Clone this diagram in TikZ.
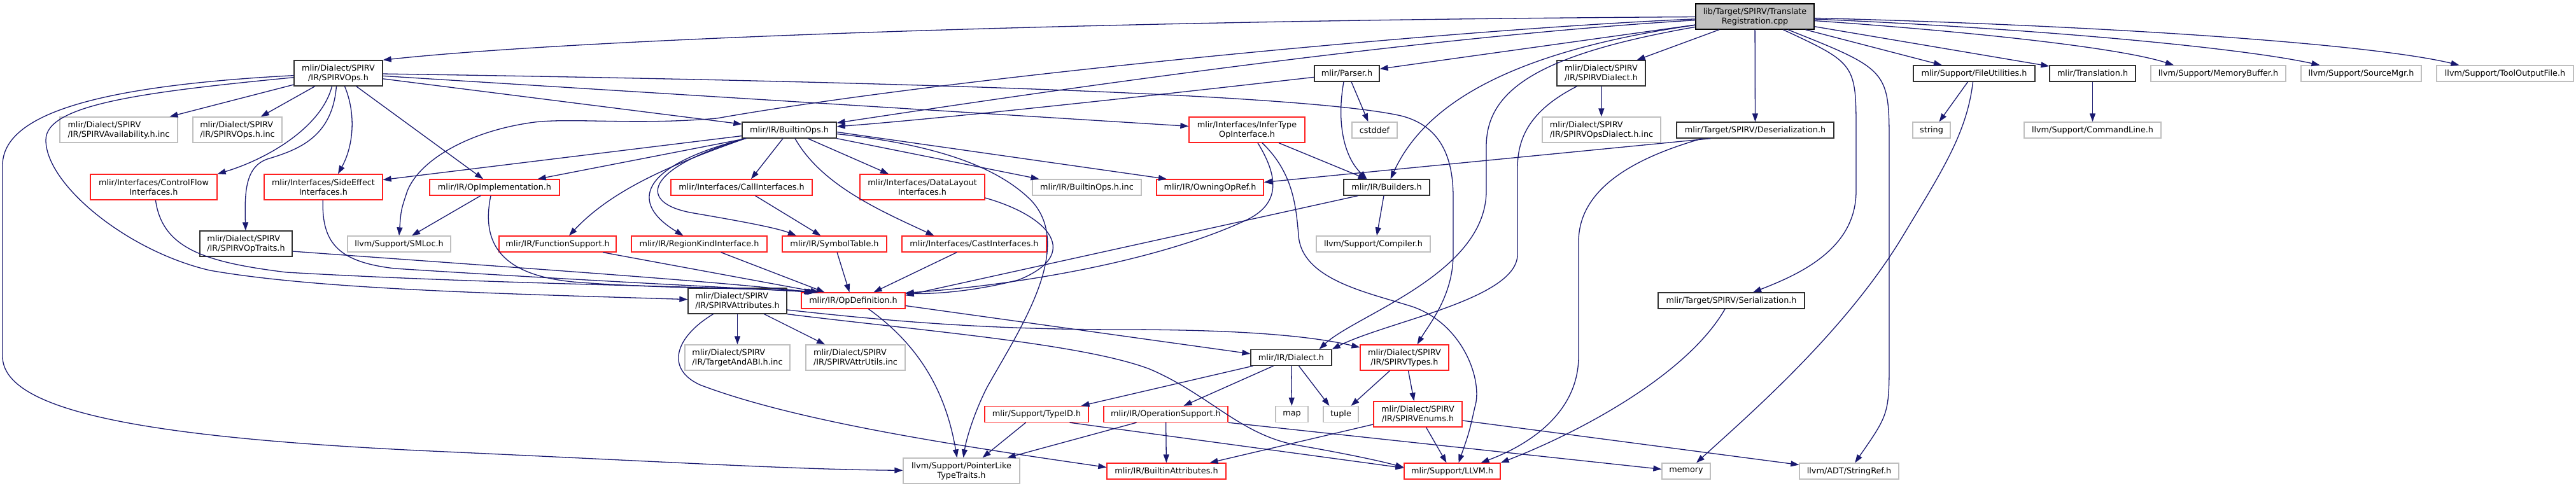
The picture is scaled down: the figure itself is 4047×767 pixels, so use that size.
\documentclass[tikz,border=0pt]{standalone}
\usepackage{fontspec}
\setmainfont{DejaVu Sans}
\usetikzlibrary{arrows.meta}
\definecolor{edgec}{HTML}{191970}
\definecolor{grayb}{HTML}{BFBFBF}
\definecolor{docb}{HTML}{303030}
\definecolor{redb}{HTML}{FF2020}
\tikzset{
  box/.style={rectangle, inner sep=0pt, line width=1.3pt, font=\fontsize{12.8}{15}\selectfont, align=center, fill=white, text=black},
  docn/.style={box, draw=docb},
  trn/.style={box, draw=redb},
  gryn/.style={box, draw=grayb},
  rootn/.style={box, draw=black, fill=grayb},
  lft/.style={align=left},
  edg/.style={draw=edgec, line width=1.3pt, -{Triangle[length=13pt,width=9pt]}},
}
\newcommand{\mknode}[7]{\node[#2, minimum width=#5pt, minimum height=#6pt] (#1) at (#3,#4) {#7};}
\begin{document}
\begin{tikzpicture}[x=1pt,y=-1pt]
\path[use as bounding box, fill=white] (0,0) rectangle (4047,767);

\mknode{TR}{rootn}{2757}{26}{186}{40}{lib/Target/SPIRV/Translate\\Registration.cpp}
\mknode{SPIRVOps}{docn}{531.5}{115}{139}{40}{mlir/Dialect/SPIRV\\/IR/SPIRVOps.h}
\mknode{Avail}{gryn,lft}{186.5}{204}{185}{40}{mlir/Dialect/SPIRV\\/IR/SPIRVAvailability.h.inc}
\mknode{OpsInc}{gryn,lft}{373}{204}{140}{40}{mlir/Dialect/SPIRV\\/IR/SPIRVOps.h.inc}
\mknode{CF}{trn}{241.5}{294}{199}{40}{mlir/Interfaces/ControlFlow\\Interfaces.h}
\mknode{SE}{trn}{508}{294}{186}{40}{mlir/Interfaces/SideEffect\\Interfaces.h}
\mknode{OpTraits}{docn,lft}{386.5}{383}{145}{40}{mlir/Dialect/SPIRV\\/IR/SPIRVOpTraits.h}
\mknode{SMLoc}{gryn}{627}{383.5}{162}{25}{llvm/Support/SMLoc.h}
\mknode{OpImpl}{trn}{777}{294.5}{204}{25}{mlir/IR/OpImplementation.h}
\mknode{BOps}{docn}{1240}{204.5}{148}{25}{mlir/IR/BuiltinOps.h}
\mknode{CallI}{trn}{1165}{294.5}{222}{25}{mlir/Interfaces/CallInterfaces.h}
\mknode{FuncS}{trn}{876}{383.5}{184}{25}{mlir/IR/FunctionSupport.h}
\mknode{RegK}{trn}{1098.5}{383.5}{213}{25}{mlir/IR/RegionKindInterface.h}
\mknode{SymT}{trn}{1311}{383.5}{164}{25}{mlir/IR/SymbolTable.h}
\mknode{DataL}{trn}{1449}{294}{196}{40}{mlir/Interfaces/DataLayout\\Interfaces.h}
\mknode{CastI}{trn}{1530.5}{383.5}{227}{25}{mlir/Interfaces/CastInterfaces.h}
\mknode{BOpsInc}{gryn}{1707.5}{294.5}{171}{25}{mlir/IR/BuiltinOps.h.inc}
\mknode{Owning}{trn}{1901}{294.5}{168}{25}{mlir/IR/OwningOpRef.h}
\mknode{Infer}{trn}{1959}{204}{182}{40}{mlir/Interfaces/InferType\\OpInterface.h}
\mknode{SAttr}{docn,lft}{1158.5}{473}{155}{40}{mlir/Dialect/SPIRV\\/IR/SPIRVAttributes.h}
\mknode{OpDef}{trn}{1340.5}{472.5}{163}{25}{mlir/IR/OpDefinition.h}
\mknode{TABI}{gryn,lft}{1158.5}{562}{165}{40}{mlir/Dialect/SPIRV\\/IR/TargetAndABI.h.inc}
\mknode{AttrU}{gryn,lft}{1344}{562}{156}{40}{mlir/Dialect/SPIRV\\/IR/SPIRVAttrUtils.inc}
\mknode{PLike}{gryn}{1510.5}{740}{183}{40}{llvm/Support/PointerLike\\TypeTraits.h}
\mknode{TypeID}{trn}{1628.5}{651}{163}{25}{mlir/Support/TypeID.h}
\mknode{OpSup}{trn}{1831.5}{651}{195}{25}{mlir/IR/OperationSupport.h}
\mknode{map}{gryn}{2029.5}{651}{51}{25}{map}
\mknode{BAttr}{trn}{1832.5}{740.5}{187}{25}{mlir/IR/BuiltinAttributes.h}
\mknode{Dialect}{docn}{2028.5}{562}{127}{25}{mlir/IR/Dialect.h}
\mknode{Parser}{docn}{2116}{115.5}{102}{25}{mlir/Parser.h}
\mknode{cstddef}{gryn}{2159.5}{204.5}{71}{25}{cstddef}
\mknode{Builders}{docn}{2178.5}{294.5}{135}{25}{mlir/IR/Builders.h}
\mknode{Compiler}{gryn}{2157.5}{383.5}{179}{25}{llvm/Support/Compiler.h}
\mknode{SDialect}{docn}{2515.5}{115}{139}{40}{mlir/Dialect/SPIRV\\/IR/SPIRVDialect.h}
\mknode{OpsDInc}{gryn,lft}{2516}{204}{186}{40}{mlir/Dialect/SPIRV\\/IR/SPIRVOpsDialect.h.inc}
\mknode{Deser}{docn}{2757.5}{204.5}{247}{25}{mlir/Target/SPIRV/Deserialization.h}
\mknode{STypes}{trn}{2206.5}{562}{139}{40}{mlir/Dialect/SPIRV\\/IR/SPIRVTypes.h}
\mknode{tuple}{gryn}{2106.5}{651}{55}{25}{tuple}
\mknode{SEnums}{trn}{2227.5}{651}{139}{40}{mlir/Dialect/SPIRV\\/IR/SPIRVEnums.h}
\mknode{LLVM}{trn}{2281.5}{740.5}{151}{25}{mlir/Support/LLVM.h}
\mknode{memory}{gryn}{2649}{740.5}{76}{25}{memory}
\mknode{Ser}{docn}{2720}{472.5}{230}{25}{mlir/Target/SPIRV/Serialization.h}
\mknode{FileU}{docn}{3101.5}{115.5}{191}{25}{mlir/Support/FileUtilities.h}
\mknode{Transl}{docn}{3287.5}{115.5}{135}{25}{mlir/Translation.h}
\mknode{string}{gryn}{3034.5}{204.5}{59}{25}{string}
\mknode{CmdLine}{gryn}{3287.5}{204.5}{215}{25}{llvm/Support/CommandLine.h}
\mknode{MemBuf}{gryn}{3485}{115.5}{212}{25}{llvm/Support/MemoryBuffer.h}
\mknode{SrcMgr}{gryn}{3709.5}{115.5}{189}{25}{llvm/Support/SourceMgr.h}
\mknode{ToolOut}{gryn}{3935.5}{115.5}{215}{25}{llvm/Support/ToolOutputFile.h}
\mknode{StrRef}{gryn}{2905}{740.5}{156}{25}{llvm/ADT/StringRef.h}

% root
\draw[edg] (TR) .. controls (1700,32) and (900,62) .. (SPIRVOps.north east);
\draw[edg] (TR) .. controls (2300,45) and (1500,120) .. (1126,186) .. controls (1000,197) and (900,185) .. (840,192) .. controls (740,205) and (660,250) .. (640,300) .. controls (630,330) .. (SMLoc.north);
\draw[edg] (TR) .. controls (2200,60) and (1600,150) .. (BOps);
\draw[edg] (Parser) .. controls (1900,140) and (1500,185) .. (BOps);
\draw[edg] (TR) -- (Parser);
\draw[edg] (TR) .. controls (2380,80) and (2240,160) .. (Builders);
\draw[edg] (TR) .. controls (2420,85) and (2335,140) .. (2335,230) -- (2335,300) .. controls (2335,430) and (2130,495) .. ([xshift=44]Dialect.north);
\draw[edg] (TR) -- (SDialect);
\draw[edg] (TR) -- (Deser);
\draw[edg] (TR) .. controls (2916,100) .. (2916,210) -- (2916,300) .. controls (2916,390) and (2830,430) .. (Ser);
\draw[edg] (TR) .. controls (2968,110) .. (2968,230) -- (2968,560) .. controls (2968,650) .. (StrRef);
\draw[edg] (TR) -- (FileU);
\draw[edg] (TR) -- (Transl);
\draw[edg] (TR) .. controls (3100,50) and (3330,75) .. ([xshift=-70]MemBuf.north);
\draw[edg] (TR) .. controls (3200,45) and (3520,75) .. ([xshift=-65]SrcMgr.north);
\draw[edg] (TR) .. controls (3300,40) and (3720,68) .. ([xshift=-72]ToolOut.north);

% SPIRVOps
\draw[edg] (SPIRVOps) -- (Avail);
\draw[edg] (SPIRVOps) -- (OpsInc);
\draw[edg] ([xshift=-10]SPIRVOps.south) .. controls (505,200) and (420,250) .. (CF.north east);
\draw[edg] ([xshift=-3]SPIRVOps.south) .. controls (522,215) and (470,235) .. (420,250) .. controls (386,262) and (384,300) .. (OpTraits);
\draw[edg] ([xshift=10]SPIRVOps.south) .. controls (560,180) and (555,230) .. ([xshift=23]SE.north);
\draw[edg] (SPIRVOps) -- (OpImpl);
\draw[edg] (SPIRVOps) -- (BOps);
\draw[edg] (SPIRVOps) .. controls (1400,128) and (2050,148) .. (2201,182) .. controls (2265,198) and (2283,250) .. (2283,310) -- (2283,400) .. controls (2283,465) and (2245,510) .. ([xshift=20]STypes.north);
\draw[edg] (SPIRVOps) -- (Infer);
\draw[edg] (SPIRVOps) .. controls (150,135) and (4,180) .. (4,260) -- (4,560) .. controls (4,650) and (250,690) .. (700,710) .. controls (1050,726) and (1250,738) .. (PLike);
\draw[edg] (SPIRVOps) .. controls (220,145) and (72,165) .. (72,220) .. controls (72,290) and (200,395) .. (330,425) .. controls (500,455) and (800,462) .. (SAttr);

% into OpDefinition from the left
\draw[edg] (CF) .. controls (255,390) and (320,412) .. (450,428) .. controls (800,448) and (1150,450) .. ([xshift=-62]OpDef.north);
\draw[edg] ([yshift=-12]OpTraits.east) .. controls (800,420) and (1100,440) .. ([xshift=-64]OpDef.north);
\draw[edg] (SE) .. controls (505,385) and (535,412) .. (620,422) .. controls (900,440) and (1150,452) .. ([xshift=-60]OpDef.north);
\draw[edg] ([xshift=-6]OpImpl.south) .. controls (755,385) and (790,432) .. (900,443) .. controls (1050,455) and (1200,452) .. ([xshift=-58]OpDef.north);
\draw[edg] ([xshift=-22]OpImpl.south) -- ([xshift=20]SMLoc.north);

% BuiltinOps
\draw[edg] (BOps) -- (SE);
\draw[edg] (BOps) -- (OpImpl);
\draw[edg] ([xshift=-69]BOps.south) .. controls (1050,260) and (960,300) .. ([xshift=18]FuncS.north);
\draw[edg] ([xshift=-69]BOps.south) .. controls (1000,262) and (990,320) .. ([xshift=-25]RegK.north);
\draw[edg] ([xshift=-69]BOps.south) .. controls (1010,265) and (1000,320) .. (1090,335) .. controls (1160,347) and (1220,358) .. ([xshift=-60]SymT.north);
\draw[edg] ([xshift=-10]BOps.south) -- ([xshift=15]CallI.north);
\draw[edg] ([xshift=9]BOps.south) .. controls (1290,290) and (1380,330) .. ([xshift=-63]CastI.north);
\draw[edg] ([xshift=29]BOps.south) -- ([xshift=-53]DataL.north);
\draw[edg] ([yshift=-3]BOps.east) -- ([xshift=-68]Owning.north);
\draw[edg] (BOps.south east) -- ([xshift=-75]BOpsInc.north);
\draw[edg] ([yshift=-6]BOps.east) .. controls (1450,225) and (1560,255) .. (1620,315) .. controls (1690,390) and (1600,520) .. (1550,610) .. controls (1530,650) and (1518,690) .. ([xshift=3]PLike.north);

\draw[edg] (CallI) -- (SymT);
\draw[edg] (FuncS) -- ([xshift=-54]OpDef.north);
\draw[edg] (RegK) -- ([xshift=-45]OpDef.north);
\draw[edg] (SymT) -- ([xshift=-6]OpDef.north);
\draw[edg] (CastI) -- ([xshift=32]OpDef.north);
\draw[edg] ([yshift=-17]DataL.east) .. controls (1650,340) and (1700,400) .. (1600,440) .. controls (1530,458) and (1470,462) .. ([yshift=-2]OpDef.north east);

% InferType
\draw[edg] ([xshift=17]Infer.south) .. controls (2010,280) and (2010,320) .. (1960,345) .. controls (1800,420) and (1550,452) .. ([yshift=-1]OpDef.north east);
\draw[edg] ([xshift=24]Infer.south) .. controls (2030,270) and (2036,320) .. (2040,370) .. controls (2045,440) and (2150,460) .. (2219,482) .. controls (2300,510) and (2330,600) .. (2317,640) .. controls (2308,680) .. ([xshift=10]LLVM.north);
\draw[edg] (Infer) -- (Builders);

% Builders, Parser
\draw[edg] ([xshift=-45]Builders.south) -- ([yshift=-5]OpDef.north east);
\draw[edg] ([xshift=-4.5]Builders.south) -- ([xshift=5.5]Compiler.north);
\draw[edg] ([xshift=7]Parser.south) -- ([xshift=-10]cstddef.north);
\draw[edg] ([xshift=-5]Parser.south) .. controls (2100,190) and (2110,245) .. ([xshift=-31]Builders.north);

% SPIRVDialect, Deserialization, Serialization
\draw[edg] (SDialect) -- (OpsDInc);
\draw[edg] ([xshift=-38]SDialect.south) .. controls (2400,175) and (2384,220) .. (2384,265) -- (2384,400) .. controls (2384,470) and (2180,505) .. (Dialect.north east);
\draw[edg] ([xshift=-70]Deser.south) -- ([yshift=8]Owning.east);
\draw[edg] ([xshift=-83]Deser.south) .. controls (2560,250) and (2480,300) .. (2480,380) -- (2480,560) .. controls (2480,650) and (2400,700) .. ([xshift=45]LLVM.north);
\draw[edg] ([xshift=-10]Ser.south) .. controls (2650,590) and (2480,680) .. (LLVM.north east);

% FileUtilities, Translation
\draw[edg] ([xshift=-10]FileU.south) -- ([xshift=12]string.north);
\draw[edg] ([xshift=-2]FileU.south) .. controls (3090,210) and (3050,270) .. (2990,370) .. controls (2900,520) and (2750,650) .. ([xshift=16]memory.north);
\draw[edg] (Transl) -- (CmdLine);

% SPIRVAttributes
\draw[edg] (SAttr) -- (TABI);
\draw[edg] ([xshift=42]SAttr.south) -- ([xshift=-48]AttrU.north);
\draw[edg] ([xshift=-38]SAttr.south) .. controls (1060,530) and (1045,580) .. (1100,605) .. controls (1250,662) and (1500,700) .. ([yshift=6]BAttr.west);
\draw[edg] ([yshift=-14]SAttr.east) .. controls (1400,505) and (1550,518) .. (1762,518) .. controls (1950,518) and (2060,528) .. ([yshift=16]STypes.west);
\draw[edg] (SAttr.south east) .. controls (1450,520) and (1700,540) .. (1806,580) .. controls (1900,620) and (1950,685) .. (2040,700) .. controls (2120,714) and (2170,725) .. ([yshift=6]LLVM.west);

% OpDefinition
\draw[edg] ([yshift=-8]OpDef.east) -- ([yshift=6]Dialect.west);
\draw[edg] ([xshift=24]OpDef.south) .. controls (1440,540) and (1485,610) .. ([xshift=-7]PLike.north);

% Dialect
\draw[edg] ([xshift=-60]Dialect.south) -- ([xshift=70]TypeID.north);
\draw[edg] ([xshift=-28]Dialect.south) -- ([xshift=28]OpSup.north);
\draw[edg] (Dialect) -- (map);
\draw[edg] ([xshift=12]Dialect.south) -- ([xshift=-18]tuple.north);

% TypeID, OperationSupport
\draw[edg] ([xshift=-17]TypeID.south) -- ([xshift=33]PLike.north);
\draw[edg] ([xshift=52]TypeID.south) -- ([yshift=5]LLVM.west);
\draw[edg] ([xshift=-46]OpSup.south) -- ([xshift=72]PLike.north);
\draw[edg] (OpSup) -- (BAttr);
\draw[edg] (OpSup.south east) -- ([yshift=3]memory.west);

% SPIRVTypes, SPIRVEnums
\draw[edg] ([xshift=-23]STypes.south) -- ([xshift=16]tuple.north);
\draw[edg] ([xshift=6]STypes.south) -- ([xshift=-6]SEnums.north);
\draw[edg] ([xshift=13]SEnums.south) -- ([xshift=-9]LLVM.north);
\draw[edg] ([yshift=-16]SEnums.west) -- ([xshift=68]BAttr.north);
\draw[edg] ([yshift=-10]SEnums.east) -- ([yshift=10]StrRef.west);
\end{tikzpicture}
\end{document}
